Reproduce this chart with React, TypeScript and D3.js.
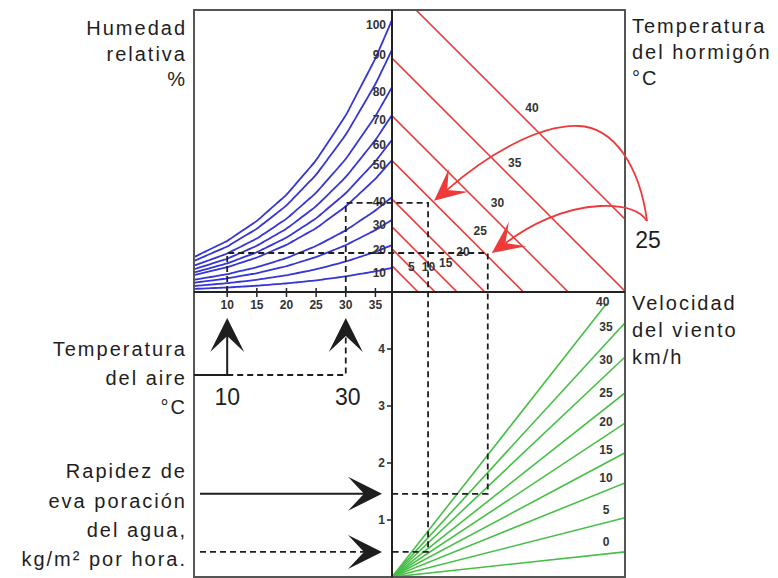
import React from 'react';
import * as d3 from 'd3';

// ---- data ----
const airTempTicks = [10, 15, 20, 25, 30, 35];
const satTemps = [4.4, 10, 15, 20, 25, 30, 35, 37.8];
const satVP = [0.84, 1.23, 1.71, 2.34, 3.17, 4.25, 5.62, 6.55];
const rhLevels = [100, 90, 80, 70, 60, 50, 40, 30, 20, 10];
const rhEndVP = [6.56, 5.84, 4.94, 4.27, 3.67, 3.18, 2.29, 1.74, 1.13, 0.58];
const concreteTemps = [5, 10, 15, 20, 25, 30, 35, 40];
const concreteVP = [0.63, 1.04, 1.57, 2.24, 3.17, 4.25, 5.64, 7.38];
const windSpeeds = [0, 5, 10, 15, 20, 25, 30, 35, 40];
const evapAtMaxDiff = [0.44, 1.04, 1.65, 2.18, 2.7, 3.23, 3.86, 4.46, 5.21];
const evapTicks = [1, 2, 3, 4];
const exampleAirTemp = [10, 30];
const exampleVP = [0.94, 2.15];
const exampleDiff = [2.31, 0.87];
const exampleEvap = [1.46, 0.44];
const exampleConcreteLabel = '25';

// ---- layout ----
const L = 194, M = 392, R = 625, T = 10, MID = 292, B = 577;
const airX = d3.scaleLinear().domain([4.4, 37.8]).range([L, M]);
const vpY = d3.scaleLinear().domain([0, 6.8]).range([MID, T]);
const diffX = d3.scaleLinear().domain([0, 5.62]).range([M, R]);
const evapY = d3.scaleLinear().domain([0, 5]).range([B, MID]);
const esAt = d3.scaleLinear().domain(satTemps).range(satVP);

const FONT = '"Liberation Sans", Arial, sans-serif';
const BLUE = '#3535d8';
const RED = '#ee3a3a';
const GREEN = '#46bf46';
const INK = '#1e1e1e';

function head(x: number, y: number, ang: number, len: number, half: number, notch: number) {
  const a = (ang * Math.PI) / 180;
  const c = Math.cos(a), s = Math.sin(a);
  const pts = [[0, 0], [-len, -half], [-notch, 0], [-len, half]].map(
    ([u, v]) => [x + u * c - v * s, y + u * s + v * c]
  );
  return 'M' + pts.map((p) => p[0].toFixed(1) + ',' + p[1].toFixed(1)).join('L') + 'Z';
}

export default function App() {
  const maxT = satTemps[satTemps.length - 1];
  const curve = d3.line<[number, number]>().x((d) => d[0]).y((d) => d[1]).curve(d3.curveMonotoneX);
  const tempSamples = d3.range(4.4, 37.81, 0.7).concat([maxT]);

  const blue = rhLevels.map((rh, i) => {
    const pts: [number, number][] = tempSamples.map((t) => [airX(t), vpY((rhEndVP[i] * esAt(t)) / esAt(maxT))]);
    return { rh, d: curve(pts) as string, endY: vpY(rhEndVP[i]) };
  });

  const red = concreteTemps.map((tc, k) => {
    const vp = concreteVP[k];
    const lx = M + 3.45 * tc + 2;
    const ly = vpY(vp - diffX.invert(lx)) - 18;
    return { tc, x1: diffX(0), y1: vpY(vp), x2: diffX(vp), y2: vpY(0), lx, ly };
  });

  const green = windSpeeds.map((w, k) => {
    const s = evapAtMaxDiff[k] / 5.62;
    const dEnd = Math.min(5.62, 4.8 / s);
    const slopePx = (s * 57) / 41.46;
    const cos = 1 / Math.sqrt(1 + slopePx * slopePx);
    let lx = 606;
    let ly = evapY(s * diffX.invert(lx)) - (3 + 9 / cos);
    if (dEnd < 5.62) {
      lx = diffX(dEnd) - 4;
      ly = evapY(s * dEnd) - 1;
    }
    return { w, x2: diffX(dEnd), y2: evapY(s * dEnd), lx, ly };
  });

  const ex = exampleAirTemp.map((t, i) => ({
    ax: airX(t),
    vy: vpY(exampleVP[i]),
    dx: diffX(exampleDiff[i]),
    ey: evapY(exampleEvap[i]),
  }));

  const airArrowY = 375;
  const airTipY = 318;
  const evTipX = 382;
  const dash = '6 4';

  const tipU = [ex[1].dx + 6, ex[1].vy - 2];
  const tipLw = [ex[0].dx + 4, ex[0].vy];

  const txt = (s: string, x: number, y: number, anchor: string, size = 20, extra: any = {}) => (
    <text x={x} y={y} textAnchor={anchor as any} fontSize={size} fontFamily={FONT} fill={INK}
      style={{ letterSpacing: size >= 20 ? '2px' : '0px' }} {...extra}>{s}</text>
  );

  return (
    <svg width={778} height={578} style={{ position: 'absolute', left: 0, top: 0, background: '#fff' }}>
      <defs>
        <clipPath id="tl"><rect x={L} y={T} width={M - L} height={MID - T} /></clipPath>
        <clipPath id="tr"><rect x={M} y={T} width={R - M} height={MID - T} /></clipPath>
        <clipPath id="br"><rect x={M} y={MID} width={R - M} height={B - MID} /></clipPath>
      </defs>
      <rect width={778} height={578} fill="#fff" />

      {/* blue humidity curves */}
      <g clipPath="url(#tl)">
        {blue.map((b) => (
          <path key={b.rh} d={b.d} fill="none" stroke={BLUE} strokeWidth={1.8} />
        ))}
      </g>
      {blue.map((b) => (
        <text key={'l' + b.rh} x={386} y={b.endY + 5 + 4} textAnchor="end" fontSize={12} fontWeight="bold"
          fontFamily={FONT} fill="#333">{b.rh}</text>
      ))}

      {/* red concrete temperature lines */}
      <g clipPath="url(#tr)">
        {red.map((r) => (
          <line key={r.tc} x1={r.x1} y1={r.y1} x2={r.x2} y2={r.y2} stroke={RED} strokeWidth={1.6} />
        ))}
      </g>
      {red.map((r) => (
        <text key={'rl' + r.tc} x={r.lx} y={r.ly + 4} textAnchor="middle" fontSize={12} fontWeight="bold"
          fontFamily={FONT} fill="#333">{r.tc}</text>
      ))}

      {/* green wind lines */}
      <g clipPath="url(#br)">
        {green.map((g) => (
          <line key={g.w} x1={diffX(0)} y1={evapY(0)} x2={g.x2} y2={g.y2} stroke={GREEN} strokeWidth={1.6} />
        ))}
      </g>
      {green.map((g) => (
        <text key={'gl' + g.w} x={g.lx} y={g.ly + 4} textAnchor="middle" fontSize={12} fontWeight="bold"
          fontFamily={FONT} fill="#333">{g.w}</text>
      ))}

      {/* dashed example paths */}
      {ex.map((e, i) => (
        <path key={'ex' + i}
          d={`M${e.ax},${MID} V${e.vy} H${e.dx} V${e.ey} H${M}`}
          fill="none" stroke={INK} strokeWidth={1.8} strokeDasharray={dash} />
      ))}

      {/* frame */}
      <rect x={L} y={T} width={R - L} height={B - T} fill="none" stroke="#555" strokeWidth={2} />
      <line x1={L} y1={MID} x2={R} y2={MID} stroke="#222" strokeWidth={2} />
      <line x1={M} y1={T} x2={M} y2={B} stroke="#222" strokeWidth={2} />

      {/* air temperature axis */}
      {airTempTicks.map((t) => (
        <g key={'at' + t}>
          <line x1={airX(t)} y1={MID - 4} x2={airX(t)} y2={MID + 5} stroke="#222" strokeWidth={1.5} />
          <text x={airX(t)} y={309} textAnchor="middle" fontSize={12} fontWeight="bold" fontFamily={FONT} fill="#333">{t}</text>
        </g>
      ))}

      {/* evaporation axis */}
      {evapTicks.map((v) => (
        <g key={'ev' + v}>
          <line x1={387} y1={evapY(v)} x2={M} y2={evapY(v)} stroke="#222" strokeWidth={1.5} />
          <text x={385} y={evapY(v) + 4} textAnchor="end" fontSize={12} fontWeight="bold" fontFamily={FONT} fill="#333">{v}</text>
        </g>
      ))}

      {/* air temperature arrows */}
      <path d={`M${L},${airArrowY} H${ex[0].ax} V${airTipY + 16}`} fill="none" stroke={INK} strokeWidth={2} />
      <path d={`M${ex[0].ax},${airArrowY} H${ex[1].ax} V${airTipY + 18}`} fill="none" stroke={INK} strokeWidth={1.8} strokeDasharray={dash} />
      <path d={head(ex[0].ax, airTipY, -90, 34, 17, 18)} fill={INK} />
      <path d={head(ex[1].ax, airTipY, -90, 34, 17, 18)} fill={INK} />
      {txt(String(exampleAirTemp[0]), ex[0].ax, 405, 'middle', 23, { style: { letterSpacing: '0px' } })}
      {txt(String(exampleAirTemp[1]), ex[1].ax + 2, 405, 'middle', 23, { style: { letterSpacing: '0px' } })}

      {/* evaporation arrows */}
      <path d={`M200,${ex[0].ey} H${evTipX - 16}`} fill="none" stroke={INK} strokeWidth={2} />
      <path d={`M200,${ex[1].ey} H${evTipX - 16}`} fill="none" stroke={INK} strokeWidth={1.8} strokeDasharray={dash} />
      <path d={head(evTipX, ex[0].ey, 0, 34, 17, 18)} fill={INK} />
      <path d={head(evTipX, ex[1].ey, 0, 34, 17, 18)} fill={INK} />

      {/* red curved arrows from the "25" concrete label */}
      <path d={`M647,221 C640,168 615,127 578,126 C538,125 487,155 ${tipU[0] + 13},${tipU[1] - 11}`}
        fill="none" stroke={RED} strokeWidth={1.8} />
      <path d={`M647,221 C640,210 625,205 600,206 C562,208 528,226 ${tipLw[0] + 14},${tipLw[1] - 10}`}
        fill="none" stroke={RED} strokeWidth={1.8} />
      <path d={head(tipU[0], tipU[1], 140, 32, 15, 17)} fill={RED} />
      <path d={head(tipLw[0], tipLw[1], 144, 32, 15, 17)} fill={RED} />
      {txt(exampleConcreteLabel, 648, 248, 'middle', 23, { style: { letterSpacing: '0px' } })}

      {/* side titles */}
      {txt('Humedad', 187, 35, 'end')}
      {txt('relativa', 187, 61, 'end')}
      {txt('%', 187, 86, 'end')}

      {txt('Temperatura', 632, 33, 'start')}
      {txt('del hormigón', 632, 59, 'start')}
      {txt('°C', 632, 85, 'start')}

      {txt('Velocidad', 632, 310, 'start')}
      {txt('del viento', 632, 337, 'start')}
      {txt('km/h', 632, 364, 'start')}

      {txt('Temperatura', 187, 356, 'end')}
      {txt('del aire', 187, 385, 'end')}
      {txt('°C', 187, 414, 'end')}

      {txt('Rapidez de', 187, 478, 'end')}
      {txt('eva poración', 187, 508, 'end')}
      {txt('del agua,', 187, 537, 'end')}
      {txt('kg/m² por hora.', 187, 566, 'end')}
    </svg>
  );
}
